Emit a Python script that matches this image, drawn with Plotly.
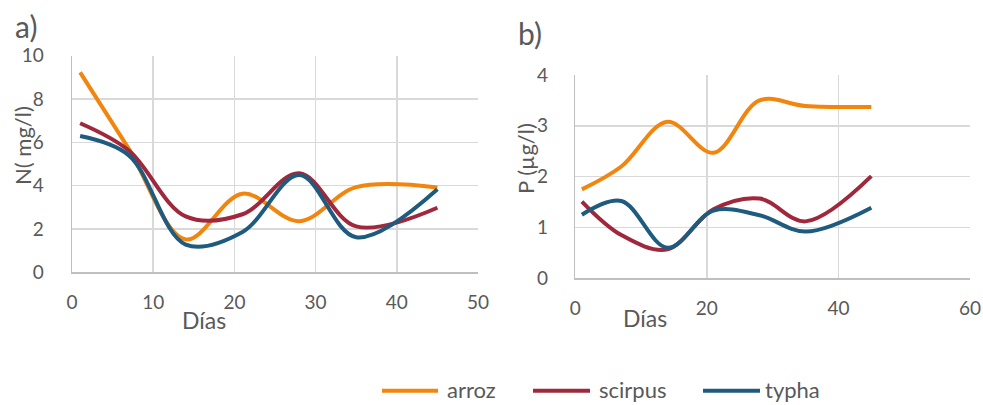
import plotly.graph_objects as go

W, H = 983, 405

# ---- data ----
dias = [1, 7, 14, 21, 28, 35, 45]
series_names = ["arroz", "scirpus", "typha"]
colors = ["#F2850D", "#A0283C", "#1F5B7E"]

n_arroz = [9.23, 5.7, 1.52, 3.63, 2.36, 3.93, 3.92]
n_scirpus = [6.88, 5.62, 2.58, 2.68, 4.57, 2.12, 2.98]
n_typha = [6.29, 5.4, 1.28, 1.86, 4.49, 1.62, 3.83]

p_arroz = [1.75, 2.2, 3.08, 2.47, 3.5, 3.39, 3.37]
p_scirpus = [1.51, 0.85, 0.57, 1.36, 1.57, 1.12, 2.01]
p_typha = [1.25, 1.52, 0.6, 1.33, 1.24, 0.92, 1.39]

x_ticks_a = [0, 10, 20, 30, 40, 50]
y_ticks_a = [0, 2, 4, 6, 8, 10]
x_ticks_b = [0, 20, 40, 60]
y_ticks_b = [0, 1, 2, 3, 4]

FONT = "Lato"
TXT = "#595959"

fig = go.Figure()

for name, col, ys in zip(series_names, colors, [n_arroz, n_scirpus, n_typha]):
    fig.add_trace(go.Scatter(x=dias, y=ys, mode="lines", name=name,
                             line=dict(color=col, width=4, shape="spline", smoothing=1.0),
                             xaxis="x", yaxis="y", showlegend=False, hoverinfo="skip"))
for name, col, ys in zip(series_names, colors, [p_arroz, p_scirpus, p_typha]):
    fig.add_trace(go.Scatter(x=dias, y=ys, mode="lines", name=name,
                             line=dict(color=col, width=4, shape="spline", smoothing=1.0),
                             xaxis="x2", yaxis="y2", showlegend=False, hoverinfo="skip"))

def px_x(p):
    return p / W

def px_y(p):
    return (H - p) / H

axis_common = dict(showgrid=True, gridcolor="#D9D9D9", gridwidth=1.5,
                   showline=True, linecolor="#BFBFBF", linewidth=1.5,
                   zeroline=False, ticks="", automargin=False,
                   tickfont=dict(family=FONT, size=19, color=TXT), fixedrange=True)

fig.update_layout(
    template="none",
    width=W, height=H,
    margin=dict(l=0, r=0, t=0, b=0, autoexpand=False),
    paper_bgcolor="white", plot_bgcolor="white",
    showlegend=False,
    xaxis=dict(domain=[px_x(72), px_x(478)], range=[0, 50], tickvals=x_ticks_a,
               anchor="y", ticklabelstandoff=12, **axis_common),
    yaxis=dict(domain=[px_y(272.3), px_y(55.7)], range=[0, 10], tickvals=y_ticks_a,
               anchor="x", ticklabelstandoff=23, **axis_common),
    xaxis2=dict(domain=[px_x(575.3), px_x(970)], range=[0, 60], tickvals=x_ticks_b,
                anchor="y2", ticklabelstandoff=12, **axis_common),
    yaxis2=dict(domain=[px_y(278.3), px_y(75)], range=[0, 4], tickvals=y_ticks_b,
                anchor="x2", ticklabelstandoff=22, **axis_common),
)

ann = []
def add_text(text, x, y, size, angle=0, xanchor="center"):
    ann.append(dict(text=text, x=px_x(x), y=px_y(y), xref="paper", yref="paper",
                    showarrow=False, textangle=angle, xanchor=xanchor, yanchor="middle",
                    font=dict(family=FONT, size=size, color=TXT)))

add_text("a)", 26, 26, 30)
add_text("b)", 530, 33, 30)
add_text("N( mg/l)", 22, 146, 22, angle=-90)
add_text("P (µg/l)", 525, 159, 22, angle=-90)
add_text("Días", 204, 320, 23)
add_text("Días", 645, 318, 23)

# manual legend
leg_y = 390.7
leg_lines = [(382, 438, 445), (533, 590, 597), (703, 760, 763)]
shapes = []
for (x0, x1, tx), name, col in zip(leg_lines, series_names, colors):
    shapes.append(dict(type="line", xref="paper", yref="paper",
                       x0=px_x(x0), x1=px_x(x1), y0=px_y(leg_y), y1=px_y(leg_y),
                       line=dict(color=col, width=4)))
    add_text(name, tx, leg_y - 1, 22, xanchor="left")

fig.update_layout(annotations=ann, shapes=shapes)

fig.write_html("out.html",
               config=dict(displayModeBar=False, staticPlot=True),
               post_script="document.body.style.margin='0px';document.body.style.overflow='hidden';")
